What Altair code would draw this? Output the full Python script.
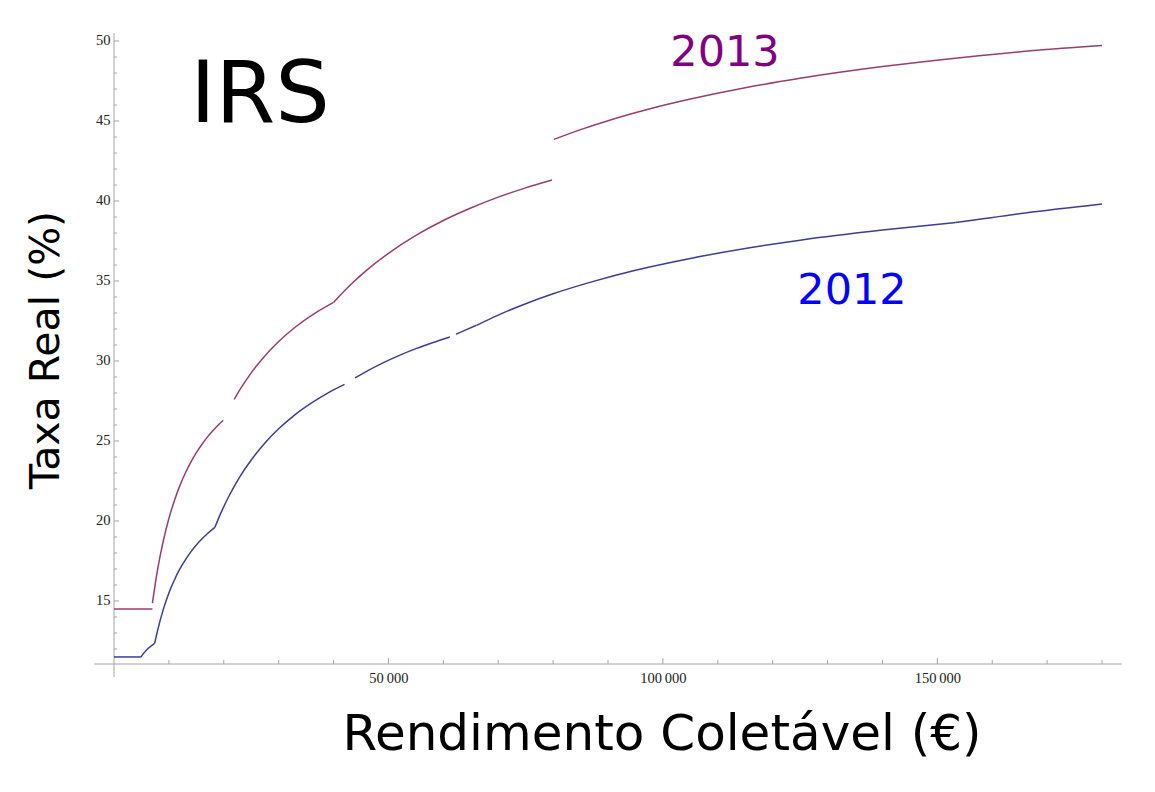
import altair as alt
import pandas as pd

# ---- data (income in EUR, effective rate in %) ----
# 2012 pieces
s12_a_x = [0, 4898]
s12_a_y = [11.5, 11.5]
s12_b_x = [4898, 6000, 7410]
s12_b_y = [11.5, 11.96, 12.35]
s12_c_x = [7410, 8000, 9000, 10000, 11000, 12000, 13000, 14000, 15000, 16000, 17000, 18375]
s12_c_y = [12.35, 13.24, 14.49, 15.50, 16.31, 17.00, 17.57, 18.07, 18.50, 18.87, 19.20, 19.60]
s12_d_x = [18375, 19500, 21000, 23000, 25000, 27500, 30000, 33000, 36000, 39000, 42000]
s12_d_y = [19.60, 20.52, 21.59, 22.80, 23.81, 24.88, 25.76, 26.65, 27.38, 28.01, 28.54]
s12_e_x = [43900, 46000, 49000, 52000, 55000, 58000, 61200]
s12_e_y = [28.94, 29.35, 29.88, 30.35, 30.77, 31.14, 31.50]
s12_f_x = [62300, 64000, 66045]
s12_f_y = [31.67, 31.93, 32.23]
s12_g_x = [66045, 70000, 75000, 80000, 87500, 95000, 105000, 115000, 125000, 140000, 153300]
s12_g_y = [32.23, 32.87, 33.58, 34.20, 34.99, 35.67, 36.41, 37.03, 37.55, 38.18, 38.65]
s12_h_x = [153300, 166000, 180000]
s12_h_y = [38.65, 39.25, 39.81]

# 2013 pieces
s13_a_x = [0, 7000]
s13_a_y = [14.5, 14.5]
s13_b_x = [7000, 7500, 8000, 8500, 9000, 10000, 11000, 12000, 13000, 14000, 15000, 16000, 17000, 18000, 19000, 19900]
s13_b_y = [14.86, 16.04, 17.07, 17.97, 18.78, 20.15, 21.27, 22.21, 23.00, 23.68, 24.27, 24.78, 25.24, 25.64, 26.00, 26.30]
s13_c_x = [21900, 23000, 25000, 27000, 30000, 33000, 36500, 40000]
s13_c_y = [27.60, 28.24, 29.26, 30.13, 31.22, 32.11, 32.96, 33.66]
s13_d_x = [40000, 43000, 46000, 50000, 55000, 60000, 65000, 70000, 75000, 79800]
s13_d_y = [33.66, 34.73, 35.66, 36.73, 37.85, 38.78, 39.56, 40.24, 40.82, 41.31]
s13_e_x = [80150, 85000, 90000, 97500, 105000, 115000, 125000, 140000, 155000, 167500, 180000]
s13_e_y = [43.85, 44.46, 45.02, 45.75, 46.37, 47.08, 47.67, 48.40, 48.99, 49.40, 49.72]

x_major = [50000, 100000, 150000]
x_minor = [10000, 20000, 30000, 40000, 60000, 70000, 80000, 90000,
           110000, 120000, 130000, 140000, 160000, 170000, 180000]
y_major = [15, 20, 25, 30, 35, 40, 45, 50]
y_minor = [12, 13, 14, 16, 17, 18, 19, 21, 22, 23, 24, 26, 27, 28, 29,
           31, 32, 33, 34, 36, 37, 38, 39, 41, 42, 43, 44, 46, 47, 48, 49]

pieces = [
    ("2012", "a", s12_a_x, s12_a_y), ("2012", "b", s12_b_x, s12_b_y),
    ("2012", "c", s12_c_x, s12_c_y), ("2012", "d", s12_d_x, s12_d_y),
    ("2012", "e", s12_e_x, s12_e_y), ("2012", "f", s12_f_x, s12_f_y),
    ("2012", "g", s12_g_x, s12_g_y), ("2012", "h", s12_h_x, s12_h_y),
    ("2013", "a", s13_a_x, s13_a_y), ("2013", "b", s13_b_x, s13_b_y),
    ("2013", "c", s13_c_x, s13_c_y), ("2013", "d", s13_d_x, s13_d_y),
    ("2013", "e", s13_e_x, s13_e_y),
]
rows = []
for ser, seg, xs_, ys_ in pieces:
    for xv, yv in zip(xs_, ys_):
        rows.append({"series": ser, "seg": ser + seg, "x": xv, "y": yv})
df = pd.DataFrame(rows)

W, H = 1008, 631
AXC = "#a6a6a6"
xs = alt.Scale(domain=[0, 183640], nice=False, zero=False)
ys = alt.Scale(domain=[11.06, 50.5], nice=False, zero=False)

xaxis = alt.Axis(values=x_major, ticks=False, domain=False, grid=False,
                 labelExpr="floor(datum.value/1000) + '\u2009000'",
                 labelFont="Liberation Serif", labelFontSize=14.5, labelColor="#222",
                 labelPadding=7, title=None)
yaxis = alt.Axis(values=y_major, ticks=False, domain=False, grid=False,
                 labelFont="Liberation Serif", labelFontSize=14.5, labelColor="#222",
                 labelPadding=4, title=None)


def X(f):
    return alt.X(f, type="quantitative", scale=xs, axis=xaxis, title=None)


def Y(f):
    return alt.Y(f, type="quantitative", scale=ys, axis=yaxis, title=None)


lines = alt.Chart(df).mark_line(strokeWidth=1.5, interpolate="monotone").encode(
    x=X("x"), y=Y("y"),
    color=alt.Color("series:N", scale=alt.Scale(domain=["2012", "2013"],
                                                 range=["#3d3d99", "#993d71"]), legend=None),
    detail="seg:N",
)

xmaj = alt.Chart(pd.DataFrame({"v": x_major})).mark_rule(color=AXC, strokeWidth=1).encode(
    x=X("v"), y=alt.value(H), y2=alt.value(H - 6))
xmin = alt.Chart(pd.DataFrame({"v": x_minor})).mark_rule(color=AXC, strokeWidth=1).encode(
    x=X("v"), y=alt.value(H), y2=alt.value(H - 4))
ymaj = alt.Chart(pd.DataFrame({"v": y_major})).mark_rule(color=AXC, strokeWidth=1).encode(
    y=Y("v"), x=alt.value(0), x2=alt.value(5))
ymin = alt.Chart(pd.DataFrame({"v": y_minor})).mark_rule(color=AXC, strokeWidth=1).encode(
    y=Y("v"), x=alt.value(0), x2=alt.value(3))

xline = alt.Chart(pd.DataFrame({"a": [0]})).mark_rule(color=AXC, strokeWidth=1).encode(
    x=alt.value(-20), x2=alt.value(W), y=alt.value(H))
yline = alt.Chart(pd.DataFrame({"a": [0]})).mark_rule(color=AXC, strokeWidth=1).encode(
    x=alt.value(0), y=alt.value(0), y2=alt.value(H + 13))


def txt(s, x, y, size, color="black", angle=0, baseline="alphabetic"):
    return alt.Chart(pd.DataFrame({"t": [s]})).mark_text(
        font="DejaVu Sans", fontSize=size, color=color, angle=angle,
        align="center", baseline=baseline,
    ).encode(text="t:N", x=alt.value(x), y=alt.value(y))


t_irs = txt("IRS", 146, 89, 86)
t_2013 = txt("2013", 611, 33, 43, color="#800080")
t_2012 = txt("2012", 738, 271, 43, color="#0000ff")
t_xt = txt("Rendimento Coletável (€)", 548, 717, 50)
t_yt = txt("Taxa Real (%)", -67, 317, 41, angle=270, baseline="middle")

chart = alt.layer(
    xline, yline, xmin, xmaj, ymin, ymaj, lines, t_irs, t_2013, t_2012, t_xt, t_yt
).properties(
    width=W, height=H,
    autosize=alt.AutoSizeParams(type="none"),
    padding={"left": 106, "top": 25, "right": 25, "bottom": 120},
    background="white",
).configure_view(stroke=None)

chart.save("out.html", embed_options={"renderer": "svg", "actions": False})
